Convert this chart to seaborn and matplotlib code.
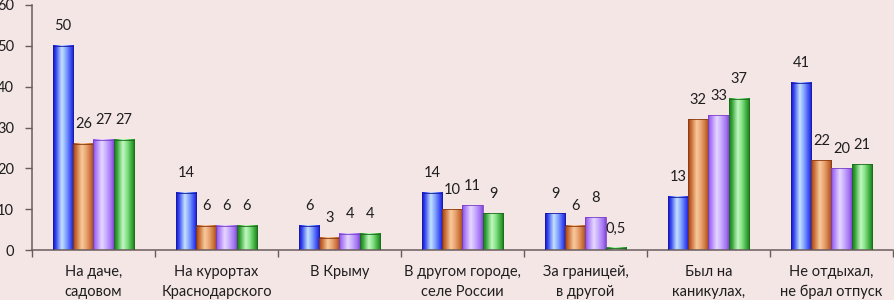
import numpy as np
import pandas as pd
import matplotlib
matplotlib.use('Agg')
import matplotlib.pyplot as plt
from matplotlib.colors import LinearSegmentedColormap
import seaborn as sns

categories = ['На даче,\nсадовом', 'На курортах\nКраснодарского', 'В Крыму',
              'В другом городе,\nселе России', 'За границей,\nв другой',
              'Был на\nканикулах,', 'Не отдыхал,\nне брал отпуск']
series_names = ['Ряд 1', 'Ряд 2', 'Ряд 3', 'Ряд 4']
series1 = [50, 14, 6, 14, 9, 13, 41]
series2 = [26, 6, 3, 10, 6, 32, 22]
series3 = [27, 6, 4, 11, 8, 33, 20]
series4 = [27, 6, 4, 9, 0.5, 37, 21]
y_ticks = [0, 10, 20, 30, 40, 50, 60]

# cylinder-like shading, left to right
gradients = [
    ['#1010C8', '#2F3FEE', '#C4E2FF', '#86A6FF', '#3545F2', '#1C1CC0'],
    ['#9A3E12', '#C4642C', '#F8CA9C', '#EBA674', '#C46A32', '#9C4618'],
    ['#8A4ADC', '#A676F6', '#E6D8FF', '#CAAEFF', '#A272F0', '#8448D6'],
    ['#1E7A1E', '#2E9E2E', '#C2F8C2', '#86E286', '#32A232', '#1E761E'],
]
edge_colors = ['#1A1AA0', '#8A3A10', '#7A40C8', '#1C6A1C']
stops = [0, 0.12, 0.42, 0.62, 0.88, 1]

bg = '#F5E6E6'
text_color = '#1E1E1E'
spine_color = '#6A5C5C'


def main():
    plt.rcParams['font.family'] = ['Lato', 'DejaVu Sans']

    df = pd.DataFrame({
        'category': categories * 4,
        'series': np.repeat(series_names, len(categories)),
        'value': series1 + series2 + series3 + series4,
    })

    fig = plt.figure(figsize=(8.95, 3.0), dpi=100, facecolor=bg)
    ax = fig.add_axes([32 / 895, 50 / 300, 861 / 895, 245 / 300], facecolor=bg)

    sns.barplot(data=df, x='category', y='value', hue='series', order=categories,
                hue_order=series_names, width=0.66, gap=0, legend=False, ax=ax)

    ax.set_xlim(-0.5, len(categories) - 0.5)
    ax.set_ylim(0, 60)

    for i, cont in enumerate(ax.containers):
        cmap = LinearSegmentedColormap.from_list('g%d' % i, list(zip(stops, gradients[i])))
        grad = cmap(np.linspace(0, 1, 64))[np.newaxis, :, :]
        for p in cont.patches:
            x, w, h = p.get_x(), p.get_width(), p.get_height()
            p.set_facecolor('none')
            p.set_edgecolor(edge_colors[i])
            p.set_linewidth(0.6)
            p.set_zorder(3)
            im = ax.imshow(grad, extent=[x, x + w, 0, h], aspect='auto',
                           interpolation='bilinear', zorder=2)
        labels = [str(v).replace('.', ',') if v % 1 else str(int(v))
                  for v in [series1, series2, series3, series4][i]]
        ax.bar_label(cont, labels=labels, padding=9, fontsize=10.5, color=text_color)

    ax.set_xlim(-0.5, len(categories) - 0.5)
    ax.set_ylim(0, 60)
    ax.set_aspect('auto')

    # boundary ticks below the axis, labels centred between them
    ax.set_xticks(np.arange(-0.5, len(categories), 1.0))
    ax.set_xticklabels([])
    ax.set_xticks(range(len(categories)), minor=True)
    ax.set_xticklabels(categories, minor=True, fontsize=10.5, color=text_color,
                       linespacing=1.5, va='top')
    ax.tick_params(axis='x', which='major', length=5, width=1, color=spine_color)
    ax.tick_params(axis='x', which='minor', length=0, pad=11)

    ax.set_yticks(y_ticks)
    ax.set_yticklabels([str(t) for t in y_ticks], fontsize=10.5, color=text_color)
    ax.tick_params(axis='y', length=5, width=1, color=spine_color, pad=8)

    ax.set_xlabel('')
    ax.set_ylabel('')
    for side in ['top', 'right']:
        ax.spines[side].set_visible(False)
    for side in ['left', 'bottom']:
        ax.spines[side].set_color(spine_color)
        ax.spines[side].set_linewidth(1.1)

    fig.savefig('out.png', dpi=100, facecolor=bg)
    plt.close(fig)


if __name__ == '__main__':
    main()
